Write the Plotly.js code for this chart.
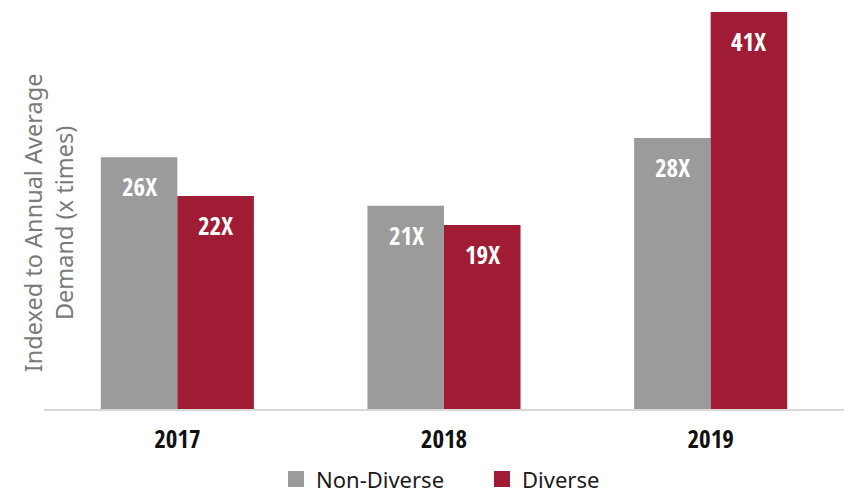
<!DOCTYPE html>
<html>
<head>
<meta charset="utf-8">
<script src="https://cdn.plot.ly/plotly-3.0.1.min.js"></script>
<style>
html,body{margin:0;padding:0;background:#fff;}
#chart{width:859px;height:494px;}
</style>
</head>
<body>
<div id="chart"></div>
<script>
const years = ['2017', '2018', '2019'];
const nonDiverse = [26, 21, 28];
const diverse = [22, 19, 41];
const seriesNames = ['Non-Diverse', 'Diverse'];
const colors = ['#9b9b9c', '#a01c34'];

const condFont = '"Open Sans Condensed", "Roboto Condensed", sans-serif';
const plainFont = '"Noto Sans", Lato, sans-serif';

const series = [nonDiverse, diverse];
const traces = [];
series.forEach((vals, i) => {
  traces.push({
    type: 'bar', x: years, y: vals, name: seriesNames[i],
    marker: {color: colors[i]}, showlegend: false, hoverinfo: 'x+y'
  });
});
// legend-only marker traces (no visible points)
series.forEach((vals, i) => {
  traces.push({
    type: 'scatter', mode: 'markers', x: [years[0]], y: [null], name: seriesNames[i],
    marker: {symbol: 'square', size: 20, color: colors[i]}, showlegend: true
  });
});

const annotations = [];
series.forEach((vals, i) => {
  vals.forEach((v, j) => {
    annotations.push({
      x: j, y: v, xref: 'x', yref: 'y', text: v + 'X', showarrow: false,
      xanchor: 'center', yanchor: 'top', xshift: i === 0 ? -38 : 38, yshift: -10,
      font: {family: condFont, size: 25, color: '#ffffff', weight: 'bold'}
    });
  });
});
annotations.push({
  xref: 'paper', yref: 'paper', x: 0.006, y: 0.47, xanchor: 'center', yanchor: 'middle',
  textangle: -90, showarrow: false,
  text: 'Indexed to Annual Average<br>Demand (x times)',
  font: {family: plainFont, size: 23.5, color: '#7a7a7a'}
});

const layout = {
  width: 859, height: 494,
  margin: {l: 44, r: 15, t: 12, b: 85},
  paper_bgcolor: '#ffffff', plot_bgcolor: '#ffffff',
  barmode: 'group', bargap: 0.426, bargroupgap: 0,
  xaxis: {
    type: 'category', categoryorder: 'array', categoryarray: years, range: [-0.5, 2.5],
    showline: true, linecolor: '#d9d9d9', linewidth: 2,
    ticks: 'outside', ticklen: 7, tickcolor: 'rgba(0,0,0,0)', showgrid: false, zeroline: false,
    tickfont: {family: condFont, size: 25, color: '#111111', weight: 'bold'}
  },
  yaxis: {
    range: [0, 41], showticklabels: false, showgrid: false, zeroline: false, showline: false, ticks: ''
  },
  legend: {
    orientation: 'h', x: 0.5475, xanchor: 'center', xref: 'paper',
    y: 0.03, yanchor: 'middle', yref: 'container',
    font: {family: plainFont, size: 22, color: '#1a1a1a'}, itemwidth: 30, traceorder: 'normal',
    entrywidth: 161
  },
  annotations: annotations,
  showlegend: true
};

Plotly.newPlot('chart', traces, layout, {displayModeBar: false, staticPlot: true});
</script>
</body>
</html>
